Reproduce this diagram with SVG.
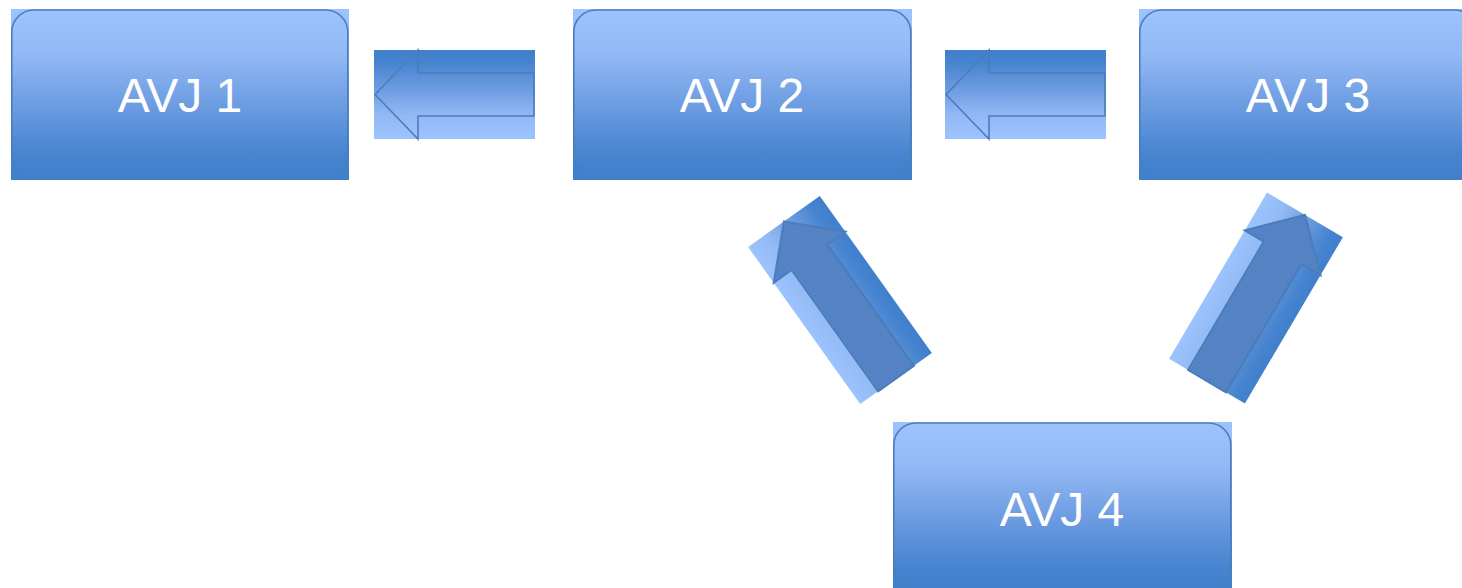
<svg xmlns="http://www.w3.org/2000/svg" width="1462" height="588" viewBox="0 0 1462 588">
  <defs>
    <linearGradient id="gNode" x1="0" y1="0" x2="0" y2="1">
      <stop offset="0" stop-color="#9DC3FE"/>
      <stop offset="0.25" stop-color="#94BAF6"/>
      <stop offset="0.55" stop-color="#6E9DE2"/>
      <stop offset="0.85" stop-color="#4784D0"/>
      <stop offset="1" stop-color="#3F7FCC"/>
    </linearGradient>
    <linearGradient id="gArrowH" x1="0" y1="0" x2="0" y2="1">
      <stop offset="0" stop-color="#3F7FCC"/>
      <stop offset="0.15" stop-color="#4784D0"/>
      <stop offset="0.45" stop-color="#6E9DE2"/>
      <stop offset="0.75" stop-color="#94BAF6"/>
      <stop offset="1" stop-color="#9DC3FE"/>
    </linearGradient>
    <linearGradient id="gArrowD" x1="0" y1="0" x2="1" y2="0">
      <stop offset="0" stop-color="#9DC3FE"/>
      <stop offset="0.25" stop-color="#94BAF6"/>
      <stop offset="0.55" stop-color="#6E9DE2"/>
      <stop offset="0.85" stop-color="#4784D0"/>
      <stop offset="1" stop-color="#3F7FCC"/>
    </linearGradient>
    <pattern id="hatch" patternUnits="userSpaceOnUse" width="2" height="2">
      <rect x="0" y="0" width="2" height="2" fill="#6490D0"/>
      <rect x="0" y="0" width="1" height="2" fill="#4C7BBE"/>
      <rect x="1" y="1" width="1" height="1" fill="#5584C6"/>
    </pattern>
  </defs>
  <style>
    .box { fill: url(#gNode); }
    .outline { fill: none; stroke: #4A7EBB; stroke-width: 1.6; }
    .label { font-family: "Liberation Sans", Arial, sans-serif; font-size: 48px; fill: #FFFFFF; text-anchor: middle; }
    .harrow-bg { fill: url(#gArrowH); }
    .harrow { fill: none; stroke: #4A7EBB; stroke-width: 1.6; stroke-linejoin: miter; }
    .darrow-bg { fill: url(#gArrowD); }
    .darrow { fill: url(#hatch); stroke: #4A7EBB; stroke-width: 2; }
  </style>
  <rect x="0" y="0" width="1462" height="588" fill="#FFFFFF"/>

  <g id="node-avj1">
    <rect class="box" x="11" y="9" width="338" height="171"/>
    <rect class="outline" x="11.8" y="10" width="336" height="168" rx="22" ry="22"/>
    <text class="label" x="180" y="112">AVJ 1</text>
  </g>
  <g id="node-avj2">
    <rect class="box" x="573" y="9" width="339" height="171"/>
    <rect class="outline" x="573.8" y="10" width="337" height="168" rx="22" ry="22"/>
    <text class="label" x="742" y="112">AVJ 2</text>
  </g>
  <g id="node-avj3">
    <rect class="box" x="1139" y="9" width="339" height="171"/>
    <rect class="outline" x="1139.8" y="10" width="337" height="168" rx="22" ry="22"/>
    <text class="label" x="1308" y="112">AVJ 3</text>
  </g>
  <g id="node-avj4">
    <rect class="box" x="893" y="422" width="339" height="171"/>
    <rect class="outline" x="893.8" y="423" width="337" height="168" rx="22" ry="22"/>
    <text class="label" x="1062" y="526">AVJ 4</text>
  </g>

  <g id="connectors">
    <g id="arrow-2-to-1">
      <rect class="harrow-bg" x="374" y="50" width="161" height="89"/>
      <path class="harrow" d="M375,94.5 L418,50 L418,73 L534,73 L534,116 L418,116 L418,139 Z"/>
    </g>
    <g id="arrow-3-to-2">
      <rect class="harrow-bg" x="945" y="50" width="161" height="89"/>
      <path class="harrow" d="M946,94.5 L989,50 L989,73 L1105,73 L1105,116 L989,116 L989,139 Z"/>
    </g>
    <g id="arrow-4-to-2" transform="translate(840,300) rotate(-35.5)">
      <rect class="darrow-bg" x="-44" y="-96.5" width="88" height="193"/>
      <path class="darrow" d="M0,-96.5 L44,-52.5 L22,-52.5 L22,96.5 L-22,96.5 L-22,-52.5 L-44,-52.5 Z"/>
    </g>
    <g id="arrow-4-to-3" transform="translate(1256,298) rotate(30.5)">
      <rect class="darrow-bg" x="-44" y="-96.5" width="88" height="193"/>
      <path class="darrow" d="M0,-96.5 L44,-52.5 L22,-52.5 L22,96.5 L-22,96.5 L-22,-52.5 L-44,-52.5 Z"/>
    </g>
  </g>
</svg>
